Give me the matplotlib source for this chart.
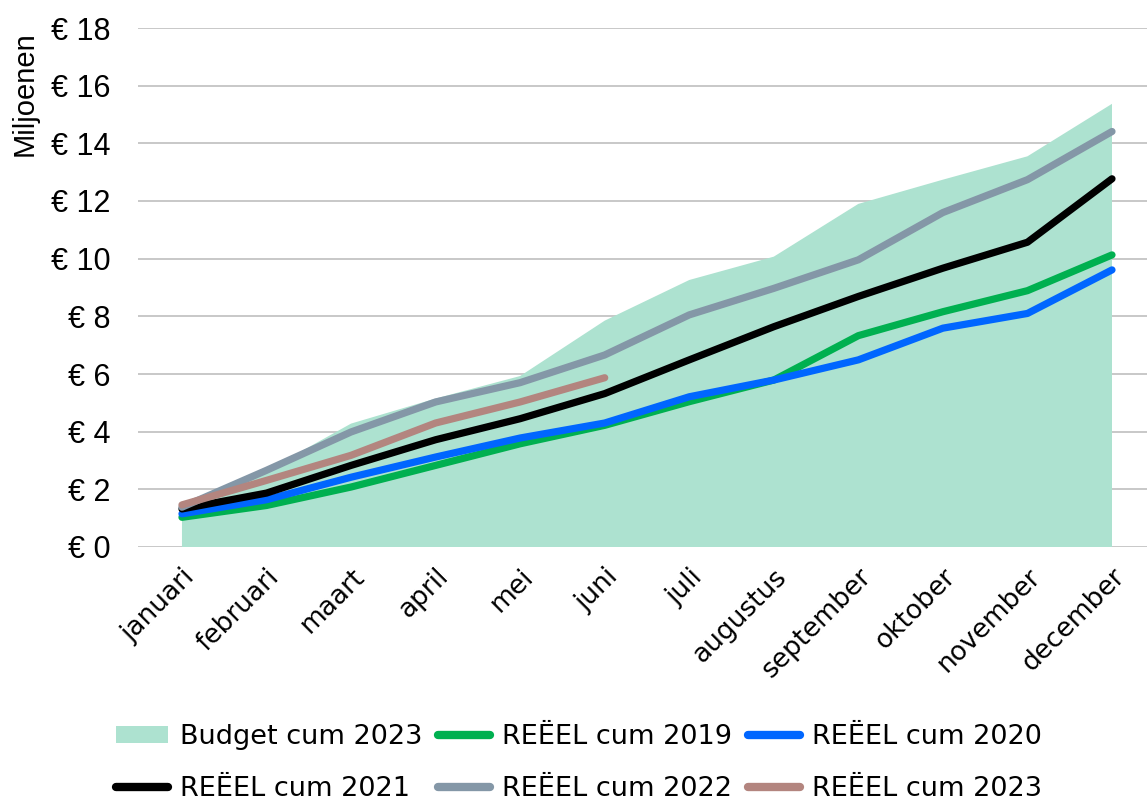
import matplotlib
matplotlib.use("Agg")
import matplotlib.pyplot as plt
from matplotlib.patches import Patch
from matplotlib.lines import Line2D
import numpy as np

months = ["januari", "februari", "maart", "april", "mei", "juni", "juli",
          "augustus", "september", "oktober", "november", "december"]

budget_2023 = [1.45, 2.65, 4.28, 5.15, 5.93, 7.85, 9.26, 10.07, 11.9, 12.74, 13.55, 15.37]
reeel_2019 = [1.03, 1.44, 2.08, 2.83, 3.58, 4.22, 5.04, 5.79, 7.33, 8.16, 8.89, 10.13]
reeel_2020 = [1.15, 1.64, 2.42, 3.12, 3.78, 4.3, 5.21, 5.79, 6.49, 7.59, 8.1, 9.61]
reeel_2021 = [1.32, 1.87, 2.83, 3.72, 4.45, 5.32, 6.49, 7.64, 8.69, 9.67, 10.57, 12.77]
reeel_2022 = [1.38, 2.66, 3.99, 5.03, 5.7, 6.66, 8.05, 8.97, 9.96, 11.6, 12.74, 14.41]
reeel_2023 = [1.46, 2.31, 3.18, 4.3, 5.03, 5.87]

yticks = [0, 2, 4, 6, 8, 10, 12, 14, 16, 18]
ytick_labels = ["€ %d" % v for v in yticks]

legend_labels = ["Budget cum 2023", "REËEL cum 2019", "REËEL cum 2020",
                 "REËEL cum 2021", "REËEL cum 2022", "REËEL cum 2023"]

c_area = "#ADE2D0"
c_2019 = "#00B050"
c_2020 = "#0066FF"
c_2021 = "#000000"
c_2022 = "#8497A7"
c_2023 = "#B3857F"
c_grid = "#BFBFBF"

W, H = 1147, 801
fig = plt.figure(figsize=(W / 100, H / 100), dpi=100)
ax = fig.add_axes([138 / W, (H - 547) / H, (1147 - 138) / W, (547 - 28) / H])

x = np.arange(len(months))
ax.fill_between(x, budget_2023, 0, facecolor=c_area, edgecolor="none", linewidth=0, zorder=2)

lw = 5.2
kw = dict(linewidth=lw, solid_capstyle="round", solid_joinstyle="round", zorder=3)
ax.plot(x, reeel_2019, color=c_2019, **kw)
ax.plot(x, reeel_2020, color=c_2020, **kw)
ax.plot(x, reeel_2021, color=c_2021, **kw)
ax.plot(x, reeel_2022, color=c_2022, **kw)
ax.plot(x[:len(reeel_2023)], reeel_2023, color=c_2023, **kw)

ax.set_xlim(-0.52, 11.414)
ax.set_ylim(0, 18)
ax.set_yticks(yticks)
ax.set_yticklabels(ytick_labels, fontfamily="Liberation Sans", fontsize=22)
ax.yaxis.grid(True, color=c_grid, linewidth=1.2, zorder=0)
ax.set_axisbelow(True)
for s in ["top", "right", "left", "bottom"]:
    ax.spines[s].set_visible(False)
ax.tick_params(axis="y", length=0, pad=20)
ax.tick_params(axis="x", length=0, pad=12)
ax.set_xticks(x)
ax.set_xticklabels(months, rotation=45, ha="right", rotation_mode="anchor",
                   fontfamily="DejaVu Sans", fontsize=19)

fig.text(25 / W, 1 - 31 / H, "Miljoenen", rotation=90, ha="center", va="top",
         fontfamily="Liberation Sans", fontsize=21)

handles = [
    Patch(facecolor=c_area, edgecolor="none"),
    Line2D([], [], color=c_2019, linewidth=6, solid_capstyle="round"),
    Line2D([], [], color=c_2020, linewidth=6, solid_capstyle="round"),
    Line2D([], [], color=c_2021, linewidth=6, solid_capstyle="round"),
    Line2D([], [], color=c_2022, linewidth=6, solid_capstyle="round"),
    Line2D([], [], color=c_2023, linewidth=6, solid_capstyle="round"),
]
order = [0, 3, 1, 4, 2, 5]  # row-wise layout in a 2x3 legend
leg = fig.legend([handles[i] for i in order], [legend_labels[i] for i in order],
                 ncol=3, loc="center",
                 bbox_to_anchor=(579 / W, 1 - 763 / H), frameon=False,
                 prop={"family": "DejaVu Sans", "size": 19.5},
                 handlelength=1.9, handleheight=0.6, handletextpad=0.45,
                 columnspacing=0.6, labelspacing=0.95, borderpad=0)

fig.savefig("out.png", dpi=100)
